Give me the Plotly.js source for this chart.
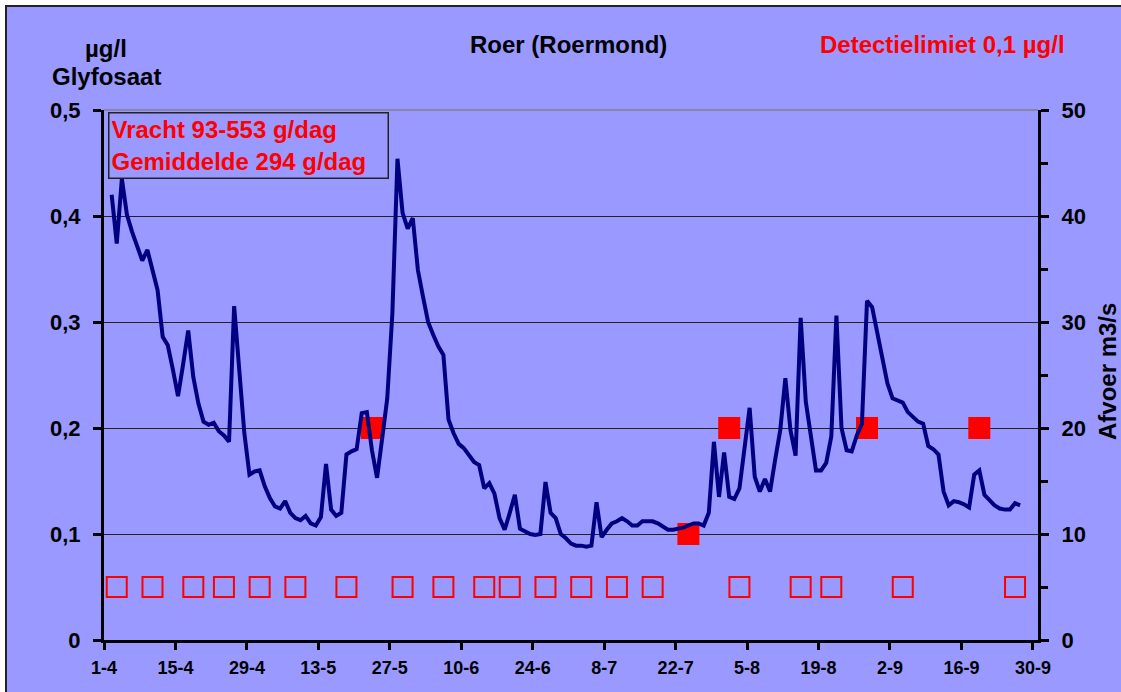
<!DOCTYPE html>
<html>
<head>
<meta charset="utf-8">
<script src="https://cdn.plot.ly/plotly-3.0.1.min.js"></script>
<style>
  html, body { margin:0; padding:0; background:#ffffff; overflow:hidden; }
  #wrap { position:absolute; left:5px; top:5px; border-left:2px solid #222; border-top:2px solid #222; background:#9999FF; }
  #chart { width:1114px; height:685px; }
</style>
</head>
<body>
<div id="wrap"><div id="chart"></div></div>
<script>
// ---- DATA ----
// Daily discharge (Afvoer, m3/s), first value on 2-4, one value per day
const afvoerStart = '2003-04-02';
const afvoer = [
  42.0, 37.4, 43.5, 40.1, 38.5, 37.0, 35.8, 36.8, 35.0, 33.0,
  28.6, 27.8, 25.5, 23.0, 26.0, 29.2, 24.8, 22.3, 20.6, 20.3,
  20.5, 19.7, 19.3, 18.7, 31.5, 25.2, 19.5, 15.6, 15.9, 16.0,
  14.5, 13.4, 12.6, 12.4, 13.1, 12.0, 11.5, 11.3, 11.7, 11.0,
  10.8, 11.6, 16.6, 12.3, 11.7, 12.0, 17.5, 17.8, 18.0, 21.4,
  21.5, 17.9, 15.3, 19.0, 22.8, 30.8, 45.4, 40.3, 38.8, 39.8,
  34.9, 32.4, 30.0, 28.8, 27.7, 26.9, 20.8, 19.5, 18.5, 18.1,
  17.5, 16.8, 16.5, 14.3, 14.8, 13.8, 11.5, 10.4, 12.0, 13.7,
  10.5, 10.2, 10.0, 9.9, 10.0, 14.9, 12.0, 11.5, 10.0, 9.6,
  9.1, 8.9, 8.9, 8.8, 8.9, 13.0, 9.7, 10.4, 11.0, 11.2,
  11.5, 11.2, 10.8, 10.8, 11.2, 11.2, 11.2, 11.0, 10.7, 10.4,
  10.4, 10.5, 10.6, 10.8, 11.0, 11.0, 10.8, 12.0, 18.7, 13.5,
  17.7, 13.5, 13.3, 14.3, 18.4, 21.9, 15.4, 14.0, 15.2, 14.0,
  17.0, 19.8, 24.7, 19.8, 17.4, 30.4, 22.5, 19.2, 16.0, 16.0,
  16.7, 19.2, 30.6, 20.0, 17.9, 17.8, 19.3, 20.4, 32.0, 31.4,
  29.0, 26.6, 24.2, 22.8, 22.6, 22.4, 21.5, 21.0, 20.6, 20.4,
  18.3, 18.0, 17.5, 14.0, 12.7, 13.1, 13.0, 12.8, 12.5, 15.6,
  16.0, 13.7, 13.2, 12.7, 12.4, 12.3, 12.3, 12.9, 12.7
];

// Glyfosaat samples below detection limit (plotted at half the limit)
const ondergrensDatums = ['2003-04-03','2003-04-10','2003-04-18','2003-04-24','2003-05-01',
  '2003-05-08','2003-05-18','2003-05-29','2003-06-06','2003-06-14','2003-06-19','2003-06-26',
  '2003-07-03','2003-07-10','2003-07-17','2003-08-03','2003-08-15','2003-08-21','2003-09-04','2003-09-26'];
const ondergrensWaarden = [0.05,0.05,0.05,0.05,0.05,0.05,0.05,0.05,0.05,0.05,
  0.05,0.05,0.05,0.05,0.05,0.05,0.05,0.05,0.05,0.05];

// Glyfosaat measured values (µg/l)
const gemetenDatums = ['2003-05-23','2003-07-24','2003-08-01','2003-08-28','2003-09-19'];
const gemetenWaarden = [0.2, 0.1, 0.2, 0.2, 0.2];

// ---- BUILD ----
function noon(d){ return d + ' 12:00'; }
const afvoerX = afvoer.map((v,i) => {
  const t = new Date(Date.parse(afvoerStart + 'T00:00:00Z') + i*864e5);
  return noon(t.toISOString().slice(0,10));
});

const FONT = 'Liberation Sans, Arial, sans-serif';
const W = 1114, H = 685, M = {l:97, t:103, r:83, b:52};
const PW = W - M.l - M.r, PH = H - M.t - M.b;
function ax(px){ return (px - 7 - M.l) / PW; }
function ay(py){ return 1 - (py - 7 - M.t) / PH; }

const traces = [
  {
    x: ondergrensDatums.map(noon), y: ondergrensWaarden, yaxis:'y', type:'scatter', mode:'markers',
    marker:{symbol:'square-open', size:20, color:'#FF0000', line:{width:2, color:'#FF0000'}},
    hoverinfo:'skip'
  },
  {
    x: gemetenDatums.map(noon), y: gemetenWaarden, yaxis:'y', type:'scatter', mode:'markers',
    marker:{symbol:'square', size:22, color:'#FF0000', line:{width:0}},
    hoverinfo:'skip'
  },
  {
    x: afvoerX, y: afvoer, yaxis:'y2', type:'scatter', mode:'lines',
    line:{color:'#000080', width:4},
    hoverinfo:'skip'
  }
];

const layout = {
  width: W, height: H,
  margin: M,
  paper_bgcolor:'#9999FF', plot_bgcolor:'#9999FF',
  showlegend:false,
  separators:',.',
  font:{family:FONT, color:'#000'},
  xaxis:{
    type:'date',
    range:['2003-04-01','2003-10-01'],
    tick0:'2003-04-01', dtick:14*864e5,
    tickformat:'%-d-%-m',
    showgrid:false, zeroline:false,
    showline:true, linecolor:'#000', linewidth:3,
    ticks:'outside', ticklen:7, tickwidth:3, tickcolor:'#000',
    ticklabelstandoff:2,
    tickfont:{family:FONT, size:18, weight:'bold', color:'#000'}
  },
  yaxis:{
    range:[0,0.5], dtick:0.1, tick0:0,
    showgrid:true, gridcolor:'#222', gridwidth:1,
    zeroline:false,
    showline:true, linecolor:'#000', linewidth:3,
    ticks:'outside', ticklen:8, tickwidth:3, tickcolor:'#000',
    ticklabelstandoff:8,
    tickfont:{family:FONT, size:22, weight:'bold', color:'#000'}
  },
  yaxis2:{
    range:[0,50], dtick:10, tick0:0,
    overlaying:'y', side:'right',
    showgrid:false, zeroline:false,
    showline:true, linecolor:'#000', linewidth:3,
    ticks:'outside', ticklen:8, tickwidth:3, tickcolor:'#000',
    minor:{dtick:5, ticks:'outside', ticklen:7, tickwidth:3, tickcolor:'#000', showgrid:false},
    ticklabelstandoff:8,
    tickfont:{family:FONT, size:22, weight:'bold', color:'#000'}
  },
  shapes:[
    {type:'line', xref:'paper', yref:'paper', x0:0, x1:1, y0:1, y1:1,
     line:{color:'#808080', width:1.5}, layer:'above'}
  ],
  annotations:[
    {text:'µg/l', xref:'paper', yref:'paper', x:ax(106), y:ay(48), xanchor:'center', yanchor:'middle',
     showarrow:false, font:{family:FONT, size:24, weight:'bold', color:'#000'}},
    {text:'Glyfosaat', xref:'paper', yref:'paper', x:ax(106), y:ay(76), xanchor:'center', yanchor:'middle',
     showarrow:false, font:{family:FONT, size:24, weight:'bold', color:'#000'}},
    {text:'Roer (Roermond)', xref:'paper', yref:'paper', x:ax(568), y:ay(44), xanchor:'center', yanchor:'middle',
     showarrow:false, font:{family:FONT, size:24, weight:'bold', color:'#000'}},
    {text:'Detectielimiet 0,1 µg/l', xref:'paper', yref:'paper', x:ax(942), y:ay(45), xanchor:'center', yanchor:'middle',
     showarrow:false, font:{family:FONT, size:24, weight:'bold', color:'#FF0000'}},
    {text:'Afvoer m3/s', xref:'paper', yref:'paper', x:ax(1107), y:ay(372), xanchor:'center', yanchor:'middle',
     textangle:-90, showarrow:false, font:{family:FONT, size:24, weight:'bold', color:'#000'}},
    {text:'Vracht 93-553 g/dag<br>Gemiddelde 294 g/dag', xref:'paper', yref:'paper',
     x:ax(108), y:ay(112), xanchor:'left', yanchor:'top', align:'left', valign:'middle',
     width:274, height:60, borderpad:2, bordercolor:'#222', borderwidth:1.5, bgcolor:'rgba(0,0,0,0)',
     showarrow:false, font:{family:FONT, size:24, weight:'bold', color:'#FF0000'}}
  ]
};

Plotly.newPlot('chart', traces, layout, {displayModeBar:false, staticPlot:true});
</script>
</body>
</html>
